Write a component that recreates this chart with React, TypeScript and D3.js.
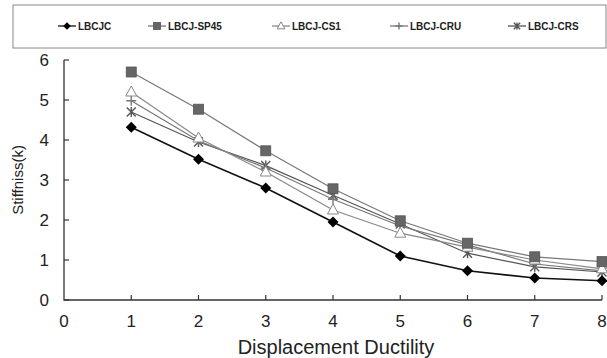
import React from 'react';
import * as d3 from 'd3';

const ductility = [1, 2, 3, 4, 5, 6, 7, 8];
const lbcjc = [4.32, 3.52, 2.8, 1.95, 1.1, 0.73, 0.55, 0.48];
const sp45 = [5.7, 4.77, 3.73, 2.78, 1.98, 1.42, 1.08, 0.96];
const cs1 = [5.2, 4.05, 3.2, 2.25, 1.67, 1.32, 1.0, 0.78];
const cru = [4.98, 3.98, 3.3, 2.52, 1.85, 1.38, 0.9, 0.73];
const crs = [4.7, 3.95, 3.36, 2.62, 1.9, 1.17, 0.83, 0.7];
const seriesNames = ['LBCJC', 'LBCJ-SP45', 'LBCJ-CS1', 'LBCJ-CRU', 'LBCJ-CRS'];
const xTicks = [0, 1, 2, 3, 4, 5, 6, 7, 8];
const yTicks = [0, 1, 2, 3, 4, 5, 6];

type Kind = 'diamond' | 'square' | 'triangle' | 'plus' | 'star';

const series: { name: string; values: number[]; kind: Kind; color: string }[] = [
  { name: seriesNames[0], values: lbcjc, kind: 'diamond', color: '#111' },
  { name: seriesNames[1], values: sp45, kind: 'square', color: '#777' },
  { name: seriesNames[2], values: cs1, kind: 'triangle', color: '#888' },
  { name: seriesNames[3], values: cru, kind: 'plus', color: '#777' },
  { name: seriesNames[4], values: crs, kind: 'star', color: '#555' },
];

function Marker({ kind, x, y, color, s = 1 }: { kind: Kind; x: number; y: number; color: string; s?: number }) {
  if (kind === 'diamond') {
    const r = 5.5 * s;
    return <path d={`M${x},${y - r}L${x + r},${y}L${x},${y + r}L${x - r},${y}Z`} fill="#000" />;
  }
  if (kind === 'square') {
    const r = 5 * s;
    return <rect x={x - r} y={y - r} width={2 * r} height={2 * r} fill="#666" stroke="#555" strokeWidth={0.8} />;
  }
  if (kind === 'triangle') {
    return (
      <path
        d={`M${x},${y - 6 * s}L${x + 5.5 * s},${y + 4 * s}L${x - 5.5 * s},${y + 4 * s}Z`}
        fill="#fff"
        stroke={color}
        strokeWidth={1}
      />
    );
  }
  const r = 5 * s;
  if (kind === 'plus') {
    return <path d={`M${x - r},${y}H${x + r}M${x},${y - r}V${y + r}`} stroke={color} strokeWidth={1.4} />;
  }
  const q = 4.5 * s;
  return (
    <path
      d={`M${x - q},${y - q}L${x + q},${y + q}M${x - q},${y + q}L${x + q},${y - q}M${x},${y - r}V${y + r}`}
      stroke={color}
      strokeWidth={1.4}
    />
  );
}

export default function App() {
  const width = 607;
  const height = 358;
  const margin = { left: 64, right: 5, top: 60, bottom: 58 };

  const x = d3.scaleLinear().domain([0, 8]).range([margin.left, width - margin.right]);
  const y = d3.scaleLinear().domain([0, 6]).range([height - margin.bottom, margin.top]);

  const line = d3
    .line<number>()
    .x((_, i) => x(ductility[i]))
    .y((d) => y(d));

  const legendX = [58, 148, 272, 390, 508];
  const font = 'Arial, "Liberation Sans", sans-serif';

  return (
    <svg width={width} height={height} style={{ position: 'absolute', left: 0, top: 0, background: '#fff' }}>
      {/* legend */}
      <rect x={13} y={5} width={593} height={43} fill="#fff" stroke="#888" strokeWidth={1} />
      {series.map((s, i) => (
        <g key={s.name}>
          <line x1={legendX[i]} x2={legendX[i] + 18} y1={26} y2={26} stroke={s.color} strokeWidth={1.3} />
          <Marker kind={s.kind} x={legendX[i] + 9} y={26} color={s.color} s={0.7} />
          <text
            x={legendX[i] + 20}
            y={26}
            dy="0.35em"
            fontFamily={font}
            fontWeight="bold"
            fontSize={10}
            fill="#222"
          >
            {s.name}
          </text>
        </g>
      ))}

      {/* axes */}
      <path
        d={`M${x(0)},${y(6)}V${y(0)}H${x(8)}`}
        fill="none"
        stroke="#333"
        strokeWidth={1.3}
      />
      {yTicks.map((t) => (
        <g key={'y' + t}>
          <line x1={x(0)} x2={x(0) + 5} y1={y(t)} y2={y(t)} stroke="#333" strokeWidth={1.2} />
          <text x={x(0) - 15} y={y(t)} dy="0.36em" textAnchor="end" fontFamily={font} fontSize={17} fill="#222">
            {t}
          </text>
        </g>
      ))}
      {xTicks.map((t) => (
        <g key={'x' + t}>
          {t > 0 && <line x1={x(t)} x2={x(t)} y1={y(0)} y2={y(0) - 5} stroke="#333" strokeWidth={1.2} />}
          <text x={x(t)} y={y(0) + 21} dy="0.36em" textAnchor="middle" fontFamily={font} fontSize={17} fill="#222">
            {t}
          </text>
        </g>
      ))}
      <text
        x={336}
        y={347}
        dy="0.36em"
        textAnchor="middle"
        fontFamily={font}
        fontSize={20}
        fill="#222"
      >
        Displacement Ductility
      </text>
      <text
        transform={`translate(18,180) rotate(-90)`}
        textAnchor="middle"
        dy="0.36em"
        fontFamily={font}
        fontSize={15}
        fill="#222"
      >
        Stiffniss(k)
      </text>

      {/* series */}
      {series
        .slice()
        .reverse()
        .map((s) => (
          <g key={s.name}>
            <path d={line(s.values) || ''} fill="none" stroke={s.color} strokeWidth={s.kind === 'diamond' ? 1.6 : 1.2} />
            {s.values.map((v, i) => (
              <Marker key={i} kind={s.kind} x={x(ductility[i])} y={y(v)} color={s.color} />
            ))}
          </g>
        ))}
    </svg>
  );
}
